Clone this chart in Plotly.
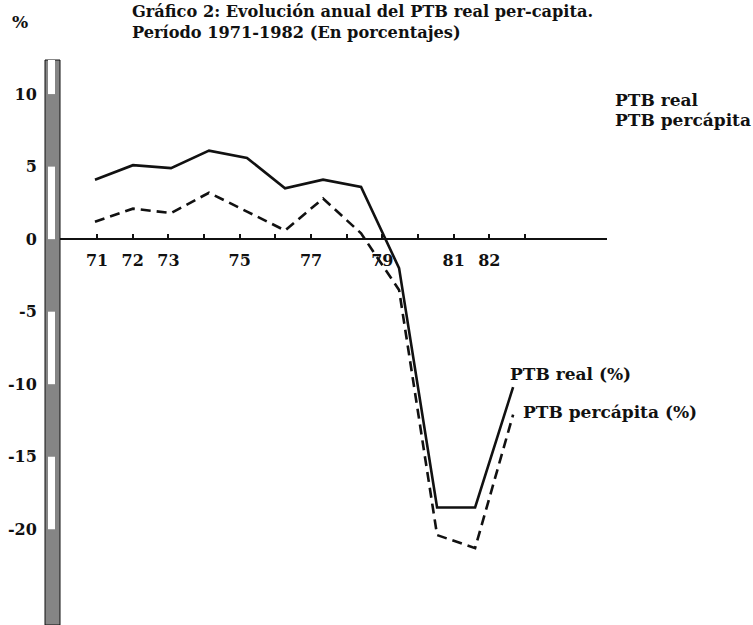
import plotly.graph_objects as go

# ---------------- data ----------------
years = [71, 72, 73, 74, 75, 76, 77, 78, 79, 80, 81, 82]
ptb_real = [4.1, 5.1, 4.9, 6.1, 5.6, 3.5, 4.1, 3.6, -2.0, -18.5, -18.5, -10.2]
ptb_percapita = [1.2, 2.1, 1.8, 3.2, 1.9, 0.6, 2.8, 0.4, -3.5, -20.4, -21.3, -12.1]

# printed year axis (its own, slightly narrower scale in the original)
axis_years = [71, 72, 73, 74, 75, 76, 77, 78, 79, 80, 81, 82, 83]
axis_labels = ["71", "72", "73", "", "75", "", "77", "", "79", "", "81", "82", ""]

y_ticks = [10, 5, 0, -5, -10, -15, -20]
y_tick_labels = ["10", "5", "0", "-5", "-10", "-15", "-20"]

title_line1 = "Gráfico 2: Evolución anual del PTB real per-capita."
title_line2 = "Período 1971-1982 (En porcentajes)"
legend_lines = ["PTB real", "PTB percápita"]
series_names = ["PTB real (%)", "PTB percápita (%)"]

# ---------------- layout constants ----------------
W, H = 753, 625
ML, MR, MT, MB = 60, 146, 60, 0
PW, PH = W - ML - MR, H - MT - MB
y_range = [-26.6, 12.35]
x_data_range = [70.08, 84.47]
x_axis_range = [69.96, 85.30]
zero_pos = (0 - y_range[0]) / (y_range[1] - y_range[0])

FONT = "DejaVu Serif"
INK = "#111111"
STIPPLE = "#858585"


def px_x(p):
    return (p - ML) / PW


def px_y(p):
    return 1 + (MT - p) / PH


def label(text, x, y, size, xanchor="left", **kw):
    d = dict(text="<b>%s</b>" % text, xanchor=xanchor, yanchor="middle", showarrow=False,
             font=dict(family=FONT, size=size, color=INK), x=x, y=y)
    d.update(kw)
    return d


fig = go.Figure()
fig.add_trace(go.Scatter(x=years, y=ptb_real, mode="lines", name=series_names[0],
                         line=dict(color=INK, width=2.6), showlegend=False))
fig.add_trace(go.Scatter(x=years, y=ptb_percapita, mode="lines", name=series_names[1],
                         line=dict(color=INK, width=2.6, dash="10px,6px"), showlegend=False))
# invisible helper so that the printed year axis (x2) is drawn
fig.add_trace(go.Scatter(x=[axis_years[0], axis_years[-1]], y=[0, 0], xaxis="x2", yaxis="y",
                         mode="markers", marker=dict(opacity=0, size=1),
                         hoverinfo="skip", showlegend=False))

# ---- stippled vertical axis bar ----
shapes = [dict(type="rect", xref="paper", yref="paper", x0=px_x(45), x1=0, y0=0, y1=1,
               fillcolor=STIPPLE, line=dict(color=INK, width=1), layer="above")]
edges = [y_range[1]] + y_ticks + [y_range[0]]
for k in range(len(edges) - 1):
    if k % 2 == 0:
        shapes.append(dict(type="rect", xref="paper", yref="y", x0=px_x(48), x1=px_x(55),
                           y0=edges[k + 1], y1=edges[k], fillcolor="white",
                           line=dict(width=0), layer="above"))

annotations = [
    label(title_line1, px_x(130), px_y(11), 16.2, xref="paper", yref="paper"),
    label(title_line2, px_x(130), px_y(32), 16.2, xref="paper", yref="paper"),
    label("%", px_x(20), px_y(22), 17, xanchor="center", xref="paper", yref="paper"),
    label(legend_lines[0], px_x(613), px_y(100), 17, xref="paper", yref="paper"),
    label(legend_lines[1], px_x(613), px_y(120), 17, xref="paper", yref="paper"),
    label(series_names[0], years[-1], ptb_real[-1], 17, xref="x", yref="y", xshift=-5, yshift=13),
    label(series_names[1], years[-1], ptb_percapita[-1], 17, xref="x", yref="y", xshift=8, yshift=3),
]

fig.update_layout(
    width=W, height=H,
    margin=dict(l=ML, r=MR, t=MT, b=MB, pad=0),
    paper_bgcolor="white", plot_bgcolor="white",
    showlegend=False,
    font=dict(family=FONT, color=INK),
    xaxis=dict(range=x_data_range, visible=False, showgrid=False, zeroline=False),
    xaxis2=dict(overlaying="x", anchor="free", position=zero_pos, side="bottom",
                range=x_axis_range, tickmode="array", tickvals=axis_years, ticktext=axis_labels,
                ticks="inside", ticklen=5, tickwidth=2, tickcolor=INK,
                ticklabelstandoff=10,
                showline=False, showgrid=False, zeroline=False,
                tickfont=dict(family=FONT, size=16, color=INK, weight="bold")),
    yaxis=dict(range=y_range, tickmode="array", tickvals=y_ticks, ticktext=y_tick_labels,
               showline=True, linecolor=INK, linewidth=2, mirror=False,
               ticks="outside", ticklen=18, tickcolor="rgba(0,0,0,0)",
               showgrid=False, zeroline=True, zerolinecolor=INK, zerolinewidth=2,
               tickfont=dict(family=FONT, size=16, color=INK, weight="bold")),
    shapes=shapes,
    annotations=annotations,
)

fig.write_html("out.html", config={"displayModeBar": False},
               post_script="document.body.style.margin='0';")
